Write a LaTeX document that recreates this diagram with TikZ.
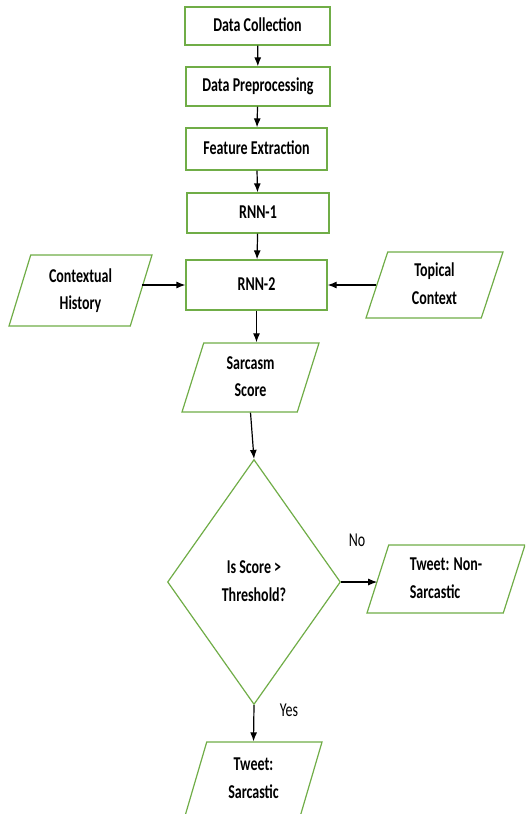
\documentclass[tikz,border=0pt]{standalone}
\usepackage{fontspec}
\setmainfont{Carlito}
\usepackage{graphicx}
\usetikzlibrary{shapes.geometric,arrows.meta}

\definecolor{boxgreen}{HTML}{70AD47}

% Text of the boxes is set tall and narrow
\newcommand{\tallbox}[2][c]{\scalebox{1}[1.4]{\begin{tabular}{@{}#1@{}}#2\end{tabular}}}

\tikzset{
  shapeline/.style={draw=boxgreen, line width=1.2pt, fill=white,
    font=\fontsize{14}{19.5}\selectfont\bfseries, inner sep=1pt},
  procbox/.style={shapeline, rectangle},
  iobox/.style={shapeline, trapezium, trapezium left angle=69,
    trapezium right angle=111, trapezium stretches body},
  decbox/.style={shapeline, diamond, aspect=0.7},
  flow/.style={-{Latex[length=9pt,width=7pt]}, line width=1.2pt},
  answer/.style={font=\fontsize{14}{19.5}\selectfont}
}

\begin{document}
\begin{tikzpicture}[x=1pt, y=-1pt]
        \useasboundingbox (0,0) rectangle (525,814);
        \clip (0,0) rectangle (525,814);

        % Main steps
        \node[procbox, minimum width=145pt, minimum height=38pt] (collect) at (257.5,26) {\tallbox{Data Collection}};
        \node[procbox, minimum width=144pt, minimum height=39pt] (prep) at (258,86.5) {\tallbox{Data Preprocessing}};
        \node[procbox, minimum width=141pt, minimum height=42pt] (feat) at (256.5,149) {\tallbox{Feature Extraction}};
        \node[procbox, minimum width=142pt, minimum height=40pt] (rnnone) at (258,213) {\tallbox{RNN-1}};
        \node[procbox, minimum width=141pt, minimum height=50pt] (rnntwo) at (256.5,285) {\tallbox{RNN-2}};

        % Inputs beside RNN-2
        \node[iobox, minimum width=143pt, minimum height=71pt] (history) at (80.5,290.5) {\tallbox{Contextual\\History}};
        \node[iobox, minimum width=137pt, minimum height=66pt] (topic) at (434.5,285) {\tallbox{Topical\\Context}};

        % Score and decision
        \node[iobox, minimum width=137pt, minimum height=69pt] (score) at (250.5,377.5) {\tallbox{Sarcasm\\Score}};
        \node[decbox, minimum width=173pt, minimum height=245pt] (check) at (254,582) {\tallbox{Is Score >\\Threshold?}};

        % Outcomes
        \node[iobox, minimum width=158pt, minimum height=68pt] (nonsarc) at (446,579) {\tallbox[l]{Tweet: Non-\\Sarcastic}};
        \node[iobox, minimum width=137pt, minimum height=74pt] (sarc) at (253.5,779) {\tallbox{Tweet:\\Sarcastic}};

        % Arrows between steps
        \draw[flow] (collect) -- (prep);
        \draw[flow] (prep) -- (feat);
        \draw[flow] (feat) -- (rnnone);
        \draw[flow] (rnnone) -- (rnntwo);
        \draw[flow] (history.east |- rnntwo) -- (rnntwo.west);
        \draw[flow] (topic.west |- rnntwo) -- (rnntwo.east);
        \draw[flow] (rnntwo.south) -- (rnntwo.south |- score.north);
        \draw[flow] (score.south) -- (check.north);
        \draw[flow] (check.east) -- (check.east -| nonsarc.west);
        \draw[flow] (check.south) -- (sarc.north);

        % Branch labels
        \node[answer] (nolabel) at (357,540) {\scalebox{1}[1.4]{No}};
        \node[answer] (yeslabel) at (289,710) {\scalebox{1}[1.4]{Yes}};
\end{tikzpicture}
\end{document}
